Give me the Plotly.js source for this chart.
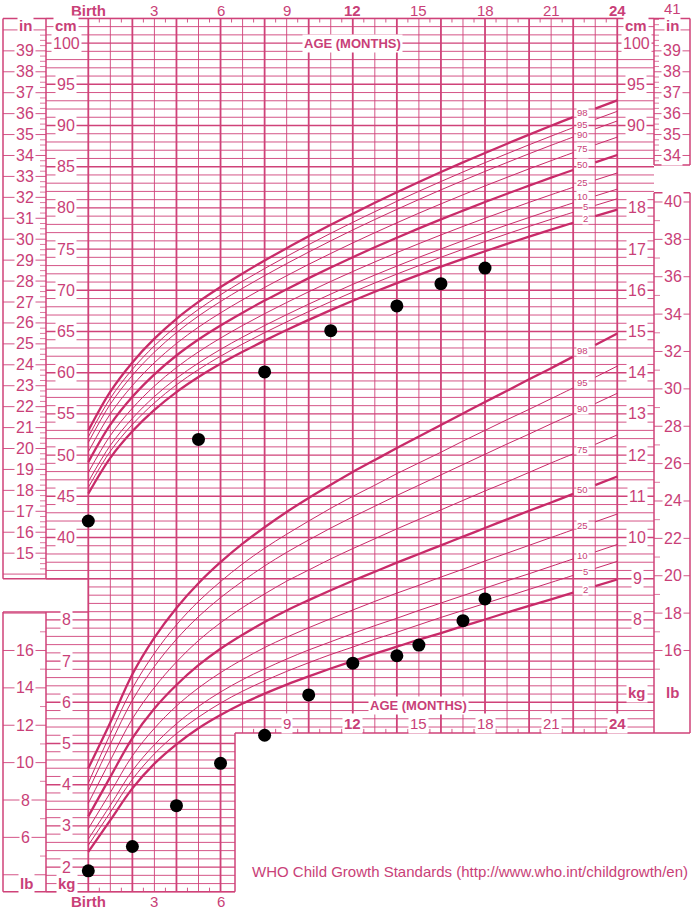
<!DOCTYPE html>
<html>
<head>
<meta charset="utf-8">
<script src="https://cdn.plot.ly/plotly-3.0.1.min.js"></script>
<style>html,body{margin:0;padding:0;background:#fff}#chart{width:691px;height:910px}</style>
</head>
<body>
<div id="chart"></div>
<script>
// ---------------- DATA ----------------
const ageMonths = [0,1,2,3,4,5,6,7,8,9,10,11,12,13,14,15,16,17,18,19,20,21,22,23,24];
const percentileNames = ['2','5','10','25','50','75','90','95','98'];

const lengthP2  = [45.32,49.67,52.89,55.48,57.64,59.47,61.08,62.53,63.89,65.18,66.41,67.59,68.73,69.82,70.87,71.88,72.87,73.82,74.74,75.64,76.52,77.37,78.20,79.00,79.79];
const lengthP5  = [46.08,50.47,53.72,56.34,58.53,60.38,62.00,63.48,64.86,66.17,67.42,68.62,69.78,70.89,71.97,73.00,74.01,74.98,75.93,76.85,77.75,78.62,79.47,80.30,81.11];
const lengthP10 = [46.76,51.18,54.46,57.11,59.32,61.18,62.83,64.32,65.72,67.05,68.32,69.54,70.72,71.85,72.94,74.00,75.02,76.02,76.99,77.93,78.84,79.73,80.61,81.45,82.28];
const lengthP25 = [47.89,52.37,55.69,58.38,60.63,62.53,64.20,65.73,67.16,68.52,69.82,71.07,72.28,73.44,74.57,75.66,76.72,77.75,78.75,79.72,80.67,81.60,82.50,83.38,84.24];
const lengthP50 = [49.15,53.69,57.07,59.80,62.09,64.03,65.73,67.29,68.75,70.14,71.48,72.77,74.02,75.22,76.38,77.51,78.61,79.67,80.71,81.72,82.70,83.67,84.60,85.52,86.42];
const lengthP75 = [50.40,55.01,58.44,61.22,63.55,65.53,67.26,68.85,70.35,71.77,73.15,74.47,75.75,76.99,78.19,79.36,80.49,81.59,82.67,83.71,84.74,85.73,86.71,87.66,88.59];
const lengthP90 = [51.53,56.19,59.68,62.50,64.86,66.88,68.64,70.25,71.78,73.24,74.64,76.00,77.32,78.59,79.82,81.02,82.19,83.32,84.43,85.51,86.57,87.60,88.60,89.59,90.55];
const lengthP95 = [52.21,56.90,60.42,63.27,65.65,67.69,69.46,71.10,72.64,74.12,75.54,76.92,78.25,79.54,80.80,82.02,83.20,84.36,85.49,86.58,87.66,88.71,89.74,90.74,91.72];
const lengthP98 = [52.97,57.70,61.25,64.13,66.54,68.59,70.39,72.04,73.61,75.11,76.55,77.95,79.30,80.62,81.90,83.14,84.35,85.52,86.67,87.79,88.89,89.97,91.01,92.04,93.04];

const weightP2  = [2.37,3.14,3.91,4.51,4.98,5.37,5.69,5.97,6.21,6.43,6.63,6.82,7.00,7.18,7.35,7.52,7.68,7.85,8.01,8.18,8.34,8.50,8.66,8.82,8.98];
const weightP5  = [2.53,3.33,4.13,4.75,5.24,5.64,5.98,6.27,6.52,6.75,6.96,7.16,7.34,7.53,7.70,7.88,8.06,8.23,8.40,8.57,8.74,8.91,9.08,9.25,9.42];
const weightP10 = [2.68,3.50,4.34,4.97,5.48,5.90,6.25,6.55,6.81,7.05,7.27,7.47,7.67,7.86,8.04,8.23,8.41,8.59,8.77,8.95,9.12,9.30,9.48,9.65,9.83];
const weightP25 = [2.93,3.81,4.70,5.37,5.91,6.35,6.72,7.04,7.33,7.58,7.81,8.03,8.24,8.45,8.65,8.84,9.04,9.23,9.43,9.62,9.81,10.00,10.19,10.38,10.57];
const weightP50 = [3.23,4.19,5.13,5.85,6.42,6.90,7.30,7.64,7.95,8.23,8.48,8.72,8.95,9.17,9.39,9.60,9.81,10.02,10.23,10.44,10.65,10.85,11.06,11.27,11.48];
const weightP75 = [3.55,4.59,5.60,6.36,6.98,7.50,7.93,8.30,8.63,8.94,9.21,9.48,9.73,9.97,10.21,10.44,10.67,10.90,11.13,11.35,11.58,11.81,12.03,12.26,12.49];
const weightP90 = [3.85,4.98,6.05,6.87,7.53,8.08,8.54,8.94,9.31,9.64,9.94,10.23,10.50,10.76,11.02,11.27,11.52,11.77,12.02,12.27,12.51,12.76,13.00,13.25,13.50];
const weightP95 = [4.04,5.23,6.34,7.19,7.88,8.45,8.93,9.36,9.74,10.08,10.40,10.71,11.00,11.27,11.55,11.81,12.07,12.34,12.60,12.86,13.11,13.37,13.63,13.89,14.16];
const weightP98 = [4.40,5.51,6.68,7.57,8.29,8.89,9.40,9.85,10.25,10.62,10.96,11.28,11.59,11.88,12.17,12.45,12.73,13.01,13.29,13.56,13.84,14.11,14.39,14.67,14.95];

const childLengthAge = [0,5,8,11,14,16,18];
const childLength    = [42.0,51.9,60.1,65.1,68.1,70.8,72.7];
const childWeightAge = [0,2,4,6,8,10,12,14,15,17,18];
const childWeight    = [1.91,2.50,3.49,4.52,5.20,6.18,6.95,7.13,7.39,7.98,8.51];

const topMonthTicks  = [0,3,6,9,12,15,18,21,24];
const topMonthLabels = ['Birth','3','6','9','12','15','18','21','24'];
const boldMonths     = [0,12,24];
const stripMonthTicks = [9,12,15,18,21,24];
const bottomLeftTicks = [0,3,6];
const cmTicksLeft   = [100,95,90,85,80,75,70,65,60,55,50,45,40];
const inchTicksLeft = [39,38,37,36,35,34,33,32,31,30,29,28,27,26,25,24,23,22,21,20,19,18,17,16,15];
const kgTicksLeft   = [8,7,6,5,4,3,2];
const lbTicksLeft   = [16,14,12,10,8,6];
const cmTicksRight  = [100,95,90];
const inchTicksRight= [41,39,38,37,36,35,34];
const kgTicksRight  = [18,17,16,15,14,13,12,11,10,9,8];
const lbTicksRight  = [40,38,36,34,32,30,28,26,24,22,20,18,16];

// ---------------- GEOMETRY ----------------
const W = 691, H = 910;
const X0 = 88.3, PXM = 22.04, Y40 = 537.5, PXC = 8.24;
const m = px => (px - X0) / PXM;          // pixel column -> months
const cmAt = py => 40 + (Y40 - py) / PXC; // pixel row -> cm
const kgToCm = kg => (kg - 2) * 5;
const inToCm = i => i * 2.54;
const lbToCm = lb => (lb * 0.45359237 - 2) * 5;

const FONT = '"Liberation Sans", Arial, Helvetica, sans-serif';
const GRID = '#cf4279';
const CURVE = '#c82b69';
const TXT = '#c93f78';

const TOP = 103, BOT = -3, STRIP = cmAt(733), LEN_BOX_BOT = 35, WT_BOX_TOP = cmAt(612);
const XCUT = m(235), IN_BOT = cmAt(165), LB_TOP = cmAt(192.7);

const shapes = [];
function seg(x0, x1, y0, y1, w, col) {
  shapes.push({type:'line', layer:'below', xref:'x', yref:'y', x0, x1, y0, y1,
               line:{color: col || GRID, width: w}});
}
const hseg = (c, pxL, pxR, w) => seg(m(pxL), m(pxR), c, c, w);
const vseg = (px, c0, c1, w) => seg(m(px), m(px), c0, c1, w);

// horizontal grid every cm (= 0.2 kg)
for (let c = BOT; c <= TOP; c++) {
  const w = (c % 5 === 0) ? 1.4 : 0.9;
  const xr = c > STRIP ? 24 : XCUT;
  const xl = (c >= LEN_BOX_BOT || c <= WT_BOX_TOP) ? m(46) : 0;
  seg(xl, xr, c, c, w);
  if (c > STRIP) seg(24, m(654), c, c, w);
}
// vertical month lines
for (let k = 0; k <= 24; k++) {
  seg(k, k, k <= 6 ? BOT : STRIP, TOP, k % 2 === 0 ? 1.8 : 0.9);
}
// half-month ticks
for (let k = 0; k < 24; k++) {
  seg(k + 0.5, k + 0.5, TOP, TOP - 0.5, 0.9);
  if (k < 6) seg(k + 0.5, k + 0.5, BOT, BOT + 0.5, 0.9);
  else if (k > 6) seg(k + 0.5, k + 0.5, STRIP, STRIP + 0.5, 0.9);
}
// borders
const BW = 1.5;
vseg(3, LEN_BOX_BOT, TOP, BW); vseg(46, LEN_BOX_BOT, TOP, BW);
vseg(3, BOT, WT_BOX_TOP, BW);  vseg(46, BOT, WT_BOX_TOP, BW);
hseg(TOP, 3, 690, BW);
hseg(LEN_BOX_BOT, 3, 88, BW); hseg(WT_BOX_TOP, 3, 88, BW);
hseg(BOT, 3, 235, BW);
vseg(235, BOT, STRIP, BW);
hseg(STRIP, 235, 690, BW);
vseg(654, IN_BOT, TOP, BW); vseg(690, IN_BOT, TOP, BW);
vseg(654, STRIP, LB_TOP, BW); vseg(690, STRIP, LB_TOP, BW);
hseg(IN_BOT, 654, 690, BW); hseg(LB_TOP, 654, 690, BW);

// inch ruler (left, length box)
for (let i = 14; i <= 40; i += 0.25) {
  const c = inToCm(i);
  if (c < LEN_BOX_BOT || c > TOP) continue;
  if (Number.isInteger(i)) hseg(c, 3, 46, 0.9); else hseg(c, 40, 46, 0.7);
}
// inch ruler (right)
for (let i = 33; i <= 41; i += 0.25) {
  const c = inToCm(i);
  if (c < IN_BOT || c > TOP) continue;
  if (Number.isInteger(i)) hseg(c, 654, 690, 0.9); else hseg(c, 654, 659, 0.7);
}
// lb ruler (left, weight box)
for (let lb = 3; lb <= 19; lb++) {
  const c = lbToCm(lb);
  if (c < BOT || c > WT_BOX_TOP) continue;
  if (lb % 2 === 0) hseg(c, 3, 46, 0.9); else hseg(c, 40, 46, 0.7);
}
// lb ruler (right)
for (let lb = 15; lb <= 41; lb++) {
  const c = lbToCm(lb);
  if (c < STRIP || c > LB_TOP) continue;
  if (lb % 2 === 0) hseg(c, 654, 690, 0.9); else hseg(c, 654, 660, 0.7);
}

// ---------------- TEXT ----------------
const ann = [];
function txt(x, y, text, opt) {
  ann.push(Object.assign({x, y, xref:'x', yref:'y', text, showarrow:false,
    font:{family:FONT, size:16, color:TXT}, xanchor:'center', yanchor:'middle',
    bgcolor:'#ffffff', borderpad:1}, opt || {}));
}
const b = s => '<b>' + s + '</b>';
const F15 = {family:FONT, size:15, color:TXT};
const CLEAR = 'rgba(0,0,0,0)';

topMonthTicks.forEach((k, i) => {
  const s = topMonthLabels[i];
  txt(k, cmAt(10), boldMonths.includes(k) ? b(s) : s, {font:F15, bgcolor:CLEAR});
});
stripMonthTicks.forEach(k => txt(k, cmAt(723.5), boldMonths.includes(k) ? b(String(k)) : String(k), {font:F15}));
bottomLeftTicks.forEach(k => txt(k, cmAt(901.5), k === 0 ? b('Birth') : String(k), {font:F15, bgcolor:CLEAR}));

txt(12, cmAt(43), b('AGE (MONTHS)'), {font:{family:FONT, size:13, color:TXT}});
txt(m(418), cmAt(705.5), b('AGE (MONTHS)'), {font:{family:FONT, size:13, color:TXT}});

// left scales
txt(m(25), cmAt(25), b('in'), {font:F15});
txt(m(66), cmAt(25), b('cm'), {font:F15});
inchTicksLeft.forEach(i => txt(m(25), inToCm(i), String(i)));
cmTicksLeft.forEach(c => txt(m(66), c, String(c)));
kgTicksLeft.forEach(k => txt(m(66), kgToCm(k), String(k)));
lbTicksLeft.forEach(l => txt(m(25), lbToCm(l), String(l)));
txt(m(26), cmAt(883), b('lb'), {font:F15});
txt(m(67), cmAt(883), b('kg'), {font:F15});

// right scales
txt(m(636), cmAt(25), b('cm'), {font:F15});
txt(m(672), cmAt(25), b('in'), {font:F15});
cmTicksRight.forEach(c => txt(m(636), c, String(c)));
inchTicksRight.forEach(i => txt(m(672), inToCm(i), String(i), i === 41 ? {bgcolor:CLEAR, font:F15} : {}));
kgTicksRight.forEach(k => txt(m(637), kgToCm(k), String(k)));
lbTicksRight.forEach(l => txt(m(673), lbToCm(l), String(l)));
txt(m(637), cmAt(692.7), b('kg'), {font:F15});
txt(m(672), cmAt(692.7), b('lb'), {font:F15});

txt(m(690), cmAt(871), 'WHO Child Growth Standards (http://www.who.int/childgrowth/en)',
    {xanchor:'right', font:F15, bgcolor:CLEAR});

// ---------------- TRACES ----------------
const lengthSets = [lengthP2,lengthP5,lengthP10,lengthP25,lengthP50,lengthP75,lengthP90,lengthP95,lengthP98];
const weightSets = [weightP2,weightP5,weightP10,weightP25,weightP50,weightP75,weightP90,weightP95,weightP98];
const traces = [];
const isMajor = n => n === '2' || n === '50' || n === '98';
// small vertical nudges (px) so the crowded length labels sit as in the reference
const lengthLabelShift = {'2':1, '5':2, '10':3, '25':1, '50':2, '75':0, '90':-2, '95':-1, '98':0};

function addCurve(values, name, axis) {
  const w = isMajor(name) ? 2.3 : 1.0;
  const base = {type:'scatter', mode:'lines', yaxis:axis, hoverinfo:'skip',
    line:{color:CURVE, width:w, shape:'spline', smoothing:1}};
  traces.push(Object.assign({}, base, {x:ageMonths.slice(0,23), y:values.slice(0,23)}));
  traces.push(Object.assign({}, base, {x:ageMonths.slice(23), y:values.slice(23)}));
  const yl = values[22] + 0.5 * (values[23] - values[22]);
  ann.push({x:22.74, y:yl, xref:'x', yref:axis, text:name, showarrow:false, xanchor:'right', yanchor:'middle',
            yshift: axis === 'y' ? lengthLabelShift[name] : 0,
            font:{family:FONT, size:9.5, color:TXT}, bgcolor:'#ffffff', borderpad:0});
}
lengthSets.forEach((v, i) => addCurve(v, percentileNames[i], 'y'));
weightSets.forEach((v, i) => addCurve(v, percentileNames[i], 'y2'));

traces.push({type:'scatter', mode:'markers', x:childLengthAge, y:childLength, yaxis:'y',
  marker:{color:'#000', size:13}, hoverinfo:'skip'});
traces.push({type:'scatter', mode:'markers', x:childWeightAge, y:childWeight, yaxis:'y2',
  marker:{color:'#000', size:13}, hoverinfo:'skip'});

const layout = {
  width:W, height:H, margin:{l:0, r:0, t:0, b:0, pad:0},
  paper_bgcolor:'#fff', plot_bgcolor:'#fff', showlegend:false,
  xaxis:{range:[m(0), m(W)], visible:false, fixedrange:true},
  yaxis:{range:[cmAt(H), cmAt(0)], visible:false, fixedrange:true},
  yaxis2:{range:[2 + cmAt(H) / 5, 2 + cmAt(0) / 5], overlaying:'y', visible:false, fixedrange:true},
  shapes, annotations:ann
};
Plotly.newPlot('chart', traces, layout, {staticPlot:true, displayModeBar:false});
</script>
</body>
</html>
